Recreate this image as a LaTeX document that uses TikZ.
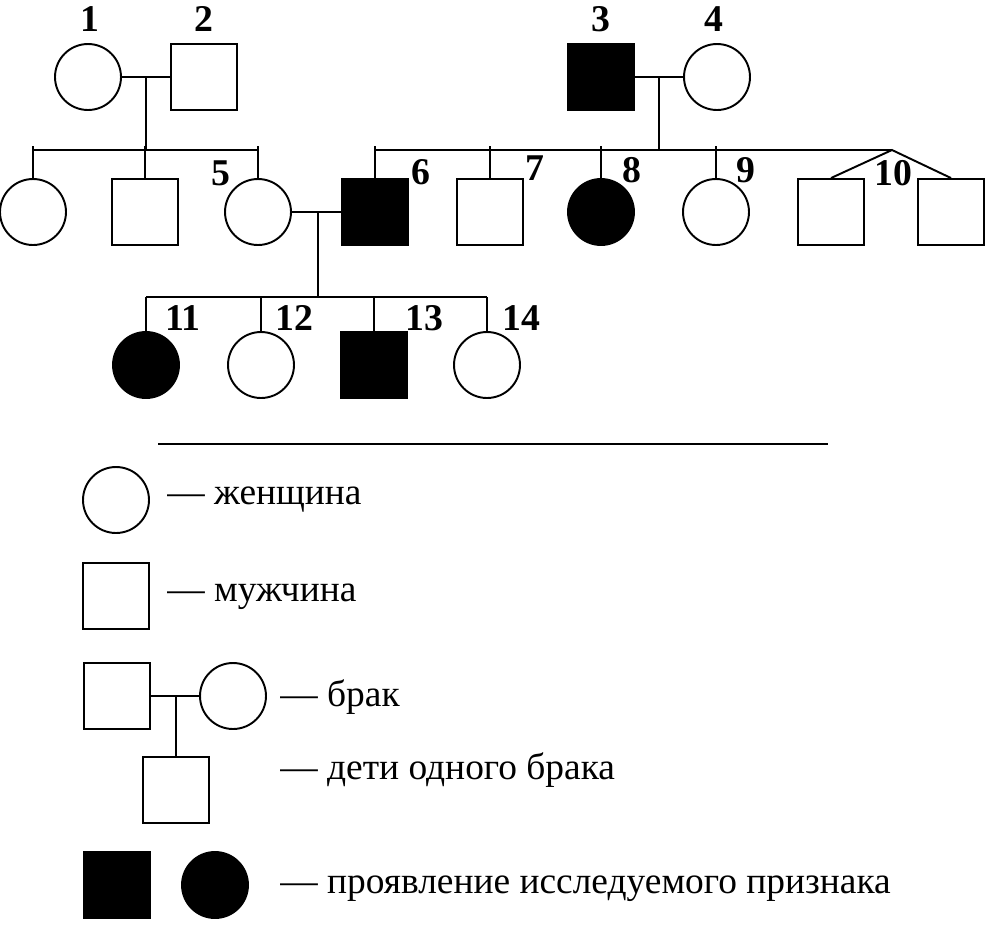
\documentclass[tikz,border=0pt]{standalone}
\usepackage{fontspec}
\setmainfont{Liberation Serif}
\usetikzlibrary{calc,positioning}

\tikzset{
  female/.style={circle, draw, line width=1.1pt, minimum size=1.32cm, inner sep=0pt},
  male/.style={rectangle, draw, line width=1.1pt, minimum size=1.32cm, inner sep=0pt},
  ill/.style={fill=black},
  num/.style={font=\fontsize{21.5}{24}\selectfont\bfseries, inner sep=0pt},
  legtext/.style={font=\fontsize{21.3}{24}\selectfont, anchor=west, inner sep=0pt},
  link/.style={line width=1.1pt}
}

\begin{document}
\begin{tikzpicture}[x=0.02cm, y=-0.02cm]
  \useasboundingbox (0,0) rectangle (988,924);

  % Generation I
  \node[female] (p1) at (88,77) {};
  \node[male] (p2) at (204,77) {};
  \node[male, ill] (p3) at (601,77) {};
  \node[female] (p4) at (717,77) {};
  \node[num] (n1) at (90,19) {1};
  \node[num] (n2) at (204,19) {2};
  \node[num] (n3) at (601,19) {3};
  \node[num] (n4) at (714,19) {4};

  % Generation II
  \node[female] (a1) at (33,212) {};
  \node[male] (a2) at (145,212) {};
  \node[female] (p5) at (258,212) {};
  \node[male, ill] (p6) at (375,212) {};
  \node[male] (p7) at (490,212) {};
  \node[female, ill] (p8) at (601,212) {};
  \node[female] (p9) at (716,212) {};
  \node[male] (p10a) at (831,212) {};
  \node[male] (p10b) at (951,212) {};
  \node[num] (n5) at (221,173) {5};
  \node[num] (n6) at (421,172) {6};
  \node[num] (n7) at (535,168) {7};
  \node[num] (n8) at (632,170) {8};
  \node[num] (n9) at (746,170) {9};
  \node[num] (n10) at (893,173) {10};

  % Generation III
  \node[female, ill] (p11) at (146,365) {};
  \node[female] (p12) at (261,365) {};
  \node[male, ill] (p13) at (374,365) {};
  \node[female] (p14) at (487,365) {};
  \node[num] (n11) at (183,318) {11};
  \node[num] (n12) at (294,318) {12};
  \node[num] (n13) at (424,318) {13};
  \node[num] (n14) at (521,318) {14};

  % marriages and sibships
  \coordinate (sib1) at (0,150);
  \coordinate (sib2) at (0,150);
  \coordinate (sib3) at (0,297);
  \coordinate (apex) at (892,150);

  \draw[link] (p1) -- (p2);
  \coordinate (m12) at ($(p1.east)!0.5!(p2.west)$);
  \draw[link] (m12) -- (m12 |- sib1);
  \draw[link] (a1.north |- sib1) -- (p5.north |- sib1);
  \foreach \c in {a1, a2, p5} {
    \draw[link] ([yshift=2pt]\c.north |- sib1) -- (\c.north);
  }

  \draw[link] (p3) -- (p4);
  \coordinate (m34) at ($(p3.east)!0.5!(p4.west)$);
  \draw[link] (m34) -- (m34 |- sib2);
  \draw[link] (p6.north |- sib2) -- (apex);
  \foreach \c in {p6, p7, p8, p9} {
    \draw[link] ([yshift=2pt]\c.north |- sib2) -- (\c.north);
  }
  \draw[link] (p10a.north) -- (apex) -- (p10b.north);

  \draw[link] (p5) -- (p6);
  \coordinate (m56) at (318,212);
  \draw[link] (m56) -- (m56 |- sib3);
  \draw[link] (p11.north |- sib3) -- (p14.north |- sib3);
  \foreach \c in {p11, p12, p13, p14} {
    \draw[link] (\c.north |- sib3) -- (\c.north);
  }

  % divider
  \coordinate (d1) at (158,444);
  \coordinate (d2) at (828,444);
  \draw[line width=1pt] (d1) -- (d2);

  % Legend
  \node[female] (lf) at (116,500) {};
  \node[legtext] (tf) at (167,500) {— женщина};
  \node[male] (lm) at (116,596) {};
  \node[legtext] (tm) at (167,597) {— мужчина};

  \node[male] (lbm) at (117,696) {};
  \node[female] (lbf) at (233,696) {};
  \node[male] (lbc) at (176,790) {};
  \draw[link] (lbm) -- (lbf);
  \draw[link] (lbc.north |- lbm) -- (lbc.north);
  \node[legtext] (tb) at (280,697) {— брак};
  \node[legtext] (tc) at (280,770) {— дети одного брака};

  \node[male, ill] (lim) at (117,885) {};
  \node[female, ill] (lif) at (215,885) {};
  \node[legtext] (ti) at (280,889) {— проявление исследуемого признака};
\end{tikzpicture}
\end{document}
